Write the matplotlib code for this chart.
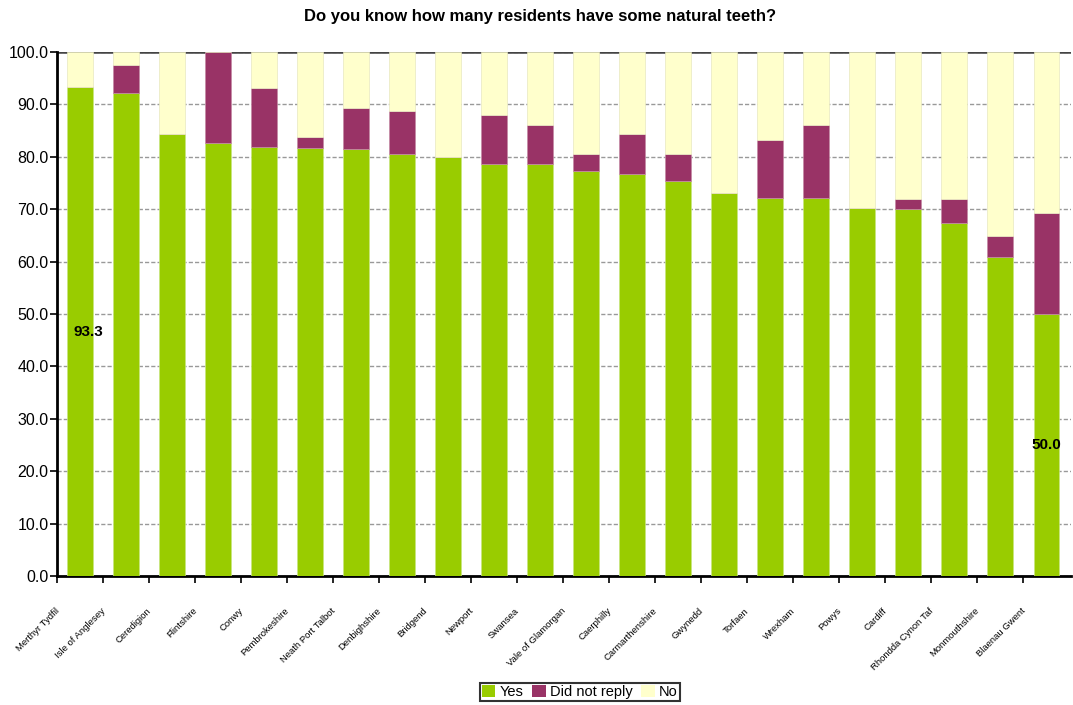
import matplotlib
matplotlib.use("Agg")
import matplotlib.pyplot as plt
from matplotlib.patches import Patch
from matplotlib.ticker import MultipleLocator, FixedLocator

plt.rcParams['font.family'] = ['Liberation Sans', 'DejaVu Sans']

title = "Do you know how many residents have some natural teeth?"
categories = ["Merthyr Tydfil", "Isle of Anglesey", "Ceredigion", "Flintshire", "Conwy",
              "Pembrokeshire", "Neath Port Talbot", "Denbighshire", "Bridgend", "Newport",
              "Swansea", "Vale of Glamorgan", "Caerphilly", "Carmarthenshire", "Gwynedd",
              "Torfaen", "Wrexham", "Powys", "Cardiff", "Rhondda Cynon Taf",
              "Monmouthshire", "Blaenau Gwent"]
yes = [93.3, 92.2, 84.4, 82.6, 81.9, 81.7, 81.4, 80.6, 79.9, 78.7, 78.7,
       77.2, 76.8, 75.3, 73.0, 72.2, 72.2, 70.3, 70.0, 67.3, 60.8, 50.0]
did_not_reply = [0.0, 5.3, 0.0, 17.4, 11.2, 2.0, 8.0, 8.1, 0.0, 9.2, 7.3,
                 3.4, 7.6, 5.3, 0.0, 11.1, 13.8, 0.0, 1.9, 4.6, 4.1, 19.2]
no = [round(100 - a - b, 1) for a, b in zip(yes, did_not_reply)]
series_names = ["Yes", "Did not reply", "No"]
labelled = {0: "93.3", 21: "50.0"}

colors = ["#99CC00", "#993366", "#FFFFCC"]

fig = plt.figure(figsize=(10.73, 7.05), dpi=100)
ax = fig.add_axes([57/1073, 1 - 576/705, (1071 - 57)/1073, (576 - 52)/705])

x = list(range(len(categories)))
w = 0.55
ax.bar(x, yes, w, color=colors[0], edgecolor="#c8e680", linewidth=0.5, zorder=3)
ax.bar(x, did_not_reply, w, bottom=yes, color=colors[1], edgecolor="#c58aa5", linewidth=0.5, zorder=3)
bottom2 = [a + b for a, b in zip(yes, did_not_reply)]
ax.bar(x, no, w, bottom=bottom2, color=colors[2], edgecolor="#e8e8c0", linewidth=0.5, zorder=3)

for i, txt in labelled.items():
    dx = 6 if i == 0 else 0
    ax.annotate(txt, (i, yes[i] / 2), xytext=(dx, 0), textcoords="offset points",
                ha="center", va="center", fontsize=11, fontweight="bold", zorder=5)

ax.set_xlim(-0.5, len(categories) - 0.5 + 0.04)
ax.set_ylim(0, 100)
ax.yaxis.set_major_locator(MultipleLocator(10))
ax.set_yticklabels([f"{v:.1f}" for v in ax.get_yticks()], fontsize=11.5)
ax.tick_params(axis="y", length=5, width=1.2, direction="out", pad=1)

ax.yaxis.grid(True, linestyle=(0, (3, 1.5)), color="#999999", linewidth=1.0, zorder=0)
ax.set_axisbelow(True)
ax.axhline(100, color="#444444", linewidth=1.8, zorder=1)

# x ticks at category boundaries, labels at centres via text
ax.xaxis.set_major_locator(FixedLocator([i - 0.5 for i in range(len(categories))]))
ax.set_xticklabels([])
ax.tick_params(axis="x", length=5, width=1.2, direction="out")

for i, cat in enumerate(categories):
    ax.annotate(cat, (i, 0), xytext=(-16, -24), textcoords="offset points",
                rotation=45, rotation_mode="anchor", ha="right", va="center",
                fontsize=6.8, xycoords=("data", "axes fraction"))

for s in ["top", "right"]:
    ax.spines[s].set_visible(False)
ax.spines["left"].set_linewidth(2)
ax.spines["bottom"].set_linewidth(2)

fig.text(540/1073, 1 - 17/705, title, ha="center", va="center", fontsize=12, fontweight="bold")

handles = [Patch(facecolor=c, edgecolor="none") for c in colors]
leg = fig.legend(handles, series_names, loc="center", bbox_to_anchor=(580/1073, 1 - 692/705),
                 ncol=3, fontsize=10.5, frameon=True, fancybox=False, handlelength=0.9,
                 handleheight=0.9, handletextpad=0.3, columnspacing=0.6, borderpad=0.15,
                 borderaxespad=0)
leg.get_frame().set_edgecolor("black")
leg.get_frame().set_linewidth(1.5)

fig.savefig("out.png", dpi=100)
